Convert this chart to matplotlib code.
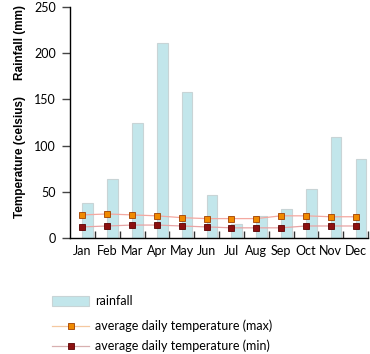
import matplotlib
matplotlib.use("Agg")
import matplotlib.pyplot as plt
import numpy as np
from matplotlib.patches import Rectangle
from matplotlib.lines import Line2D

months = ["Jan", "Feb", "Mar", "Apr", "May", "Jun", "Jul", "Aug", "Sep", "Oct", "Nov", "Dec"]
rainfall = [38, 64, 125, 211, 158, 46, 15, 24, 31, 53, 109, 86]
temp_max = [25, 26, 25, 24, 22, 21, 21, 21, 24, 24, 23, 23]
temp_min = [12, 13, 14, 14, 13, 12, 11, 11, 11, 13, 13, 13]
yticks = [0, 50, 100, 150, 200, 250]

W, H = 370, 354
fig = plt.figure(figsize=(W / 100, H / 100), dpi=100)
ax = fig.add_axes([70 / W, (H - 238) / H, 298 / W, 231 / H])

x = np.arange(len(months))
bar_col = "#c2e6eb"
ax.bar(x, rainfall, width=0.43, align="edge", color=bar_col, edgecolor="#c8d4d6", linewidth=0.8, zorder=2)
ax.plot(x, temp_max, color="#f4a8a0", lw=0.9, marker="s", markersize=4.2,
        markerfacecolor="#f08a00", markeredgecolor="#a04000", markeredgewidth=0.6, zorder=3)
ax.plot(x, temp_min, color="#e8a4a4", lw=0.9, marker="s", markersize=4.2,
        markerfacecolor="#8c1010", markeredgecolor="#5a0000", markeredgewidth=0.6, zorder=3)

ax.set_xlim(-0.5, 11.5)
ax.set_ylim(0, 250)
for s in ["top", "right"]:
    ax.spines[s].set_visible(False)
ax.spines["left"].set_linewidth(1.0)
ax.spines["bottom"].set_linewidth(1.0)

tick_font = dict(family=["Lato", "DejaVu Sans"], size=9)
ax.set_yticks(yticks)
ax.set_yticklabels([str(v) for v in yticks], **tick_font)
ax.tick_params(axis="y", direction="out", length=6, width=1.0, pad=4, color="#444444")
ax.set_xticks(np.arange(0.5, 12.0, 1.0))
ax.set_xticklabels([])
ax.tick_params(axis="x", direction="in", length=5, width=1.0, color="#333333")
ax.set_xticks(x, minor=True)
ax.set_xticklabels(months, minor=True, **tick_font)
ax.tick_params(axis="x", which="minor", length=0, pad=5)

lab_font = dict(family=["Liberation Sans", "DejaVu Sans"], size=8.5, weight="bold", rotation=90,
                ha="center", va="center")
fig.text(20 / W, 1 - 42 / H, "Rainfall (mm)", **lab_font)
fig.text(20 / W, 1 - 157 / H, "Temperature (celsius)", **lab_font)

# legend (manual)
def fx(px): return px / W
def fy(py): return 1 - py / H
fig.patches.append(Rectangle((fx(52), fy(306)), fx(89) - fx(52), fy(296) - fy(306),
                             transform=fig.transFigure, facecolor=bar_col, edgecolor="#c8d4d6", lw=0.8))
fig.text(fx(95), fy(301), "rainfall", family=["Lato", "DejaVu Sans"], size=9, va="center")
for py, lc, mfc, mec, lab in [(326, "#f5c8a0", "#f08a00", "#a04000", "average daily temperature (max)"),
                               (346, "#d8b0b0", "#8c1010", "#5a0000", "average daily temperature (min)")]:
    fig.lines.append(Line2D([fx(52), fx(89)], [fy(py), fy(py)], transform=fig.transFigure, color=lc, lw=0.9))
    fig.lines.append(Line2D([fx(70.5)], [fy(py)], transform=fig.transFigure, marker="s", markersize=4.2,
                            markerfacecolor=mfc, markeredgecolor=mec, markeredgewidth=0.6, lw=0))
    fig.text(fx(95), fy(py), lab, family=["Lato", "DejaVu Sans"], size=9, va="center")

fig.savefig("out.png", dpi=100)
